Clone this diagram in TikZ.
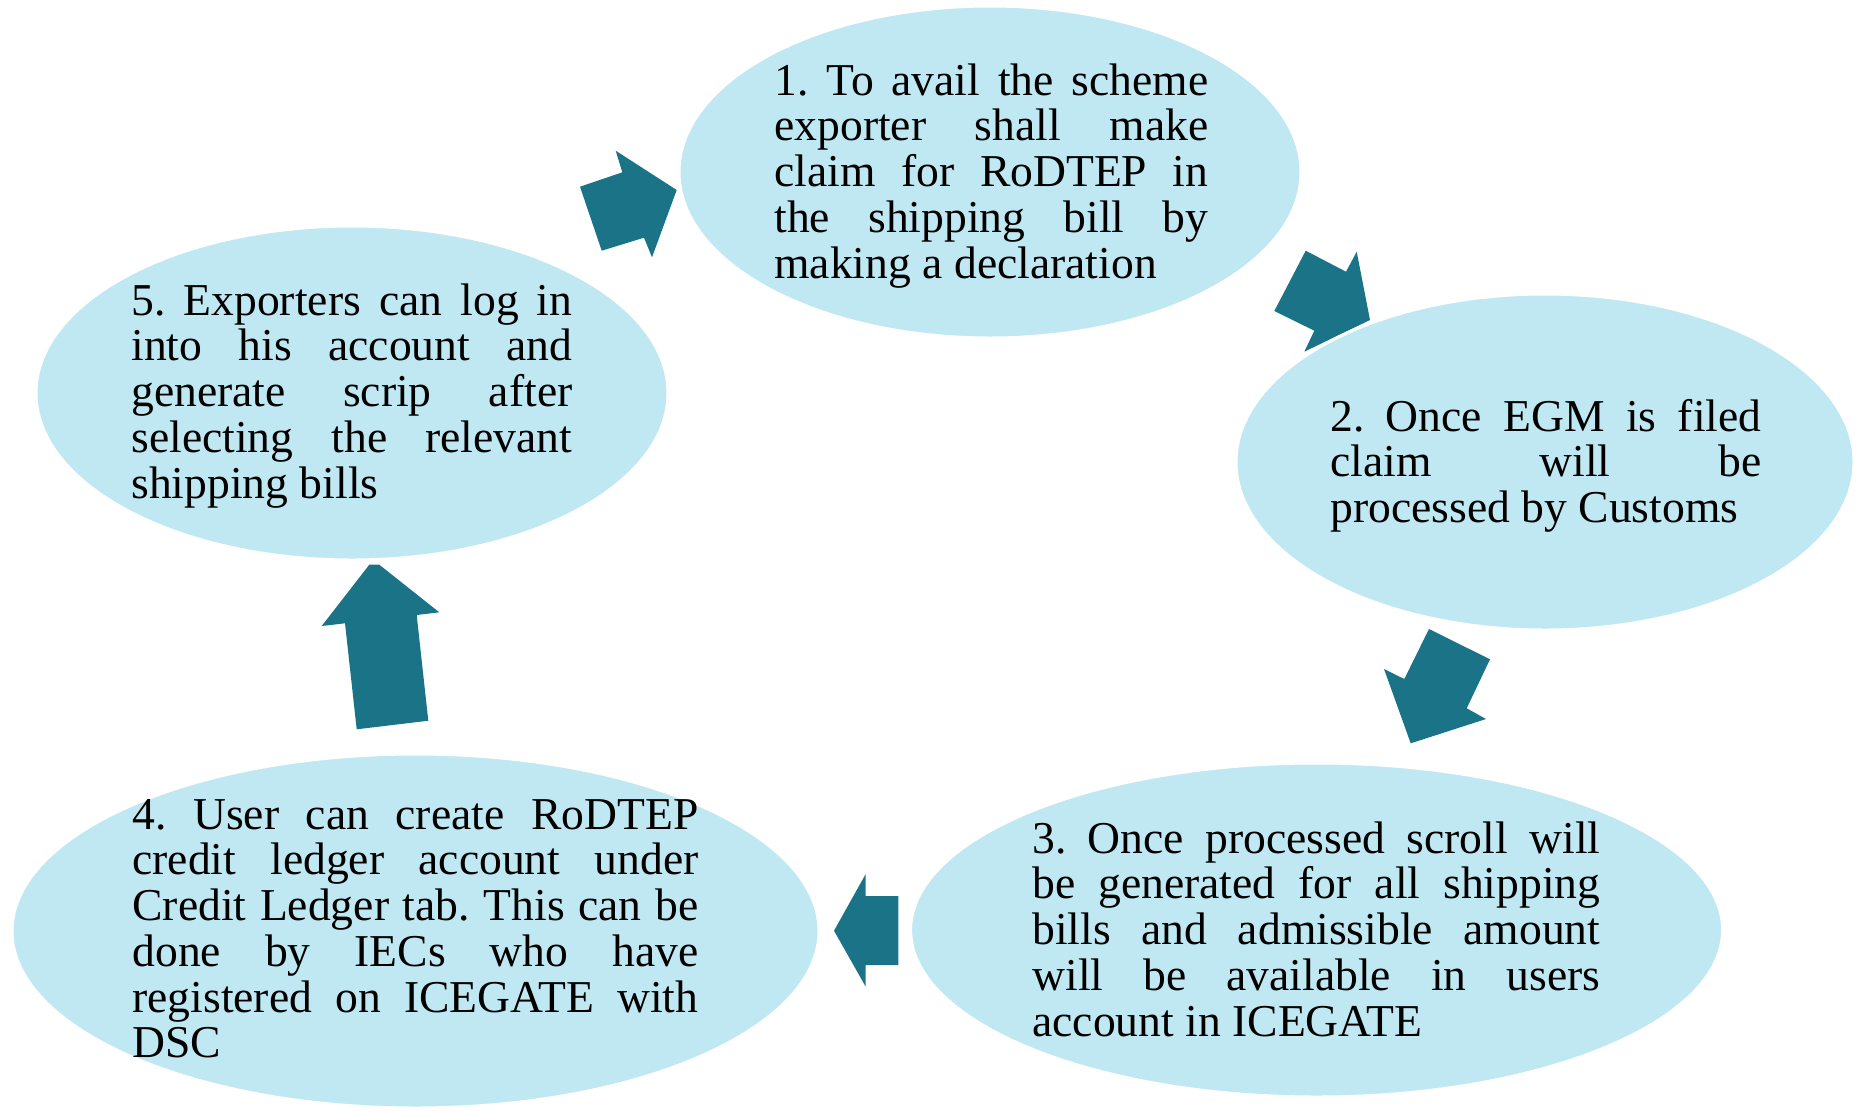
\documentclass[tikz,border=0pt]{standalone}
\usepackage{fontspec}
\setmainfont{Liberation Serif}
\usetikzlibrary{shapes.geometric}
\definecolor{ellfill}{HTML}{C0E8F2}
\definecolor{arrfill}{HTML}{1B7388}
\frenchspacing
\newcommand\jtext[2]{\vtop{\hsize=#1\parindent=0pt\parskip=0pt\fontsize{22.8}{22.875}\selectfont #2}}
\newcommand\jl[1]{\hbox to \hsize{#1}}
\begin{document}
\begin{tikzpicture}[x=0.5pt,y=-0.5pt,
  bubble/.style={ellipse, fill=ellfill, draw=white, line width=1.5pt, inner sep=0pt},
  blockarrow/.style={fill=arrfill, draw=none},
  steptext/.style={anchor=base west, inner sep=0pt}]
\useasboundingbox (0,0) rectangle (1864,1110);
% block arrows
\fill[blockarrow] (580,186.7) -- (622.3,172.3) -- (615.7,150.7) -- (676.7,190) -- (652,257.3) -- (644,237.7) -- (601.7,250.7) -- cycle;
\fill[blockarrow] (1305.7,250.7) -- (1346,271.7) -- (1356.7,251.7) -- (1370,320) -- (1304.3,351.7) -- (1314.3,330.7) -- (1274.3,311) -- cycle;
\fill[blockarrow] (1429,629) -- (1490,659.3) -- (1466.7,708.3) -- (1486,719) -- (1410.7,743.3) -- (1384,669) -- (1404.3,679) -- cycle;
\fill[blockarrow] (898.3,896) -- (898.3,965) -- (865.7,965) -- (865.7,986.7) -- (834,930.7) -- (865.7,874) -- (865.7,896) -- cycle;
\fill[blockarrow] (356.7,729.3) -- (428.3,720.7) -- (416.7,615) -- (439.3,612.3) -- (379.3,564.7) -- (369.3,564.7) -- (321.7,626) -- (345,623.3) -- cycle;
% ellipses
\node[bubble, minimum width=311pt, minimum height=166pt] (e1) at (990,172) {};
\node[bubble, minimum width=309pt, minimum height=168pt] (e2) at (1545,462) {};
\node[bubble, minimum width=406pt, minimum height=167pt] (e3) at (1316.6,930) {};
\node[bubble, minimum width=403.5pt, minimum height=177pt] (e4) at (415.5,931) {};
\node[bubble, minimum width=316pt, minimum height=167pt] (e5) at (352,393) {};
% texts
\node[steptext] (t1) at (774,95) {\jtext{217pt}{%
  \jl{1. To avail the scheme}\jl{exporter shall make}\jl{claim for RoDTEP in}\jl{the shipping bill by}\hbox{making a declaration}}};
\node[steptext] (t2) at (1330,431) {\jtext{215.5pt}{%
  \jl{2. Once EGM is filed}\jl{claim will be}\hbox{processed by Customs}}};
\node[steptext] (t3) at (1032,853) {\jtext{284pt}{%
  \jl{3. Once processed scroll will}\jl{be generated for all shipping}\jl{bills and admissible amount}\jl{will be available in users}\hbox{account in ICEGATE}}};
\node[steptext] (t4) at (132,829) {\jtext{283pt}{%
  \jl{4. User can create RoDTEP}\jl{credit ledger account under}\jl{Credit Ledger tab. This can be}\jl{done by IECs who have}\jl{registered on ICEGATE with}\hbox{DSC}}};
\node[steptext] (t5) at (131,315) {\jtext{220.5pt}{%
  \jl{5. Exporters can log in}\jl{into his account and}\jl{generate scrip after}\jl{selecting the relevant}\hbox{shipping bills}}};
\end{tikzpicture}
\end{document}
